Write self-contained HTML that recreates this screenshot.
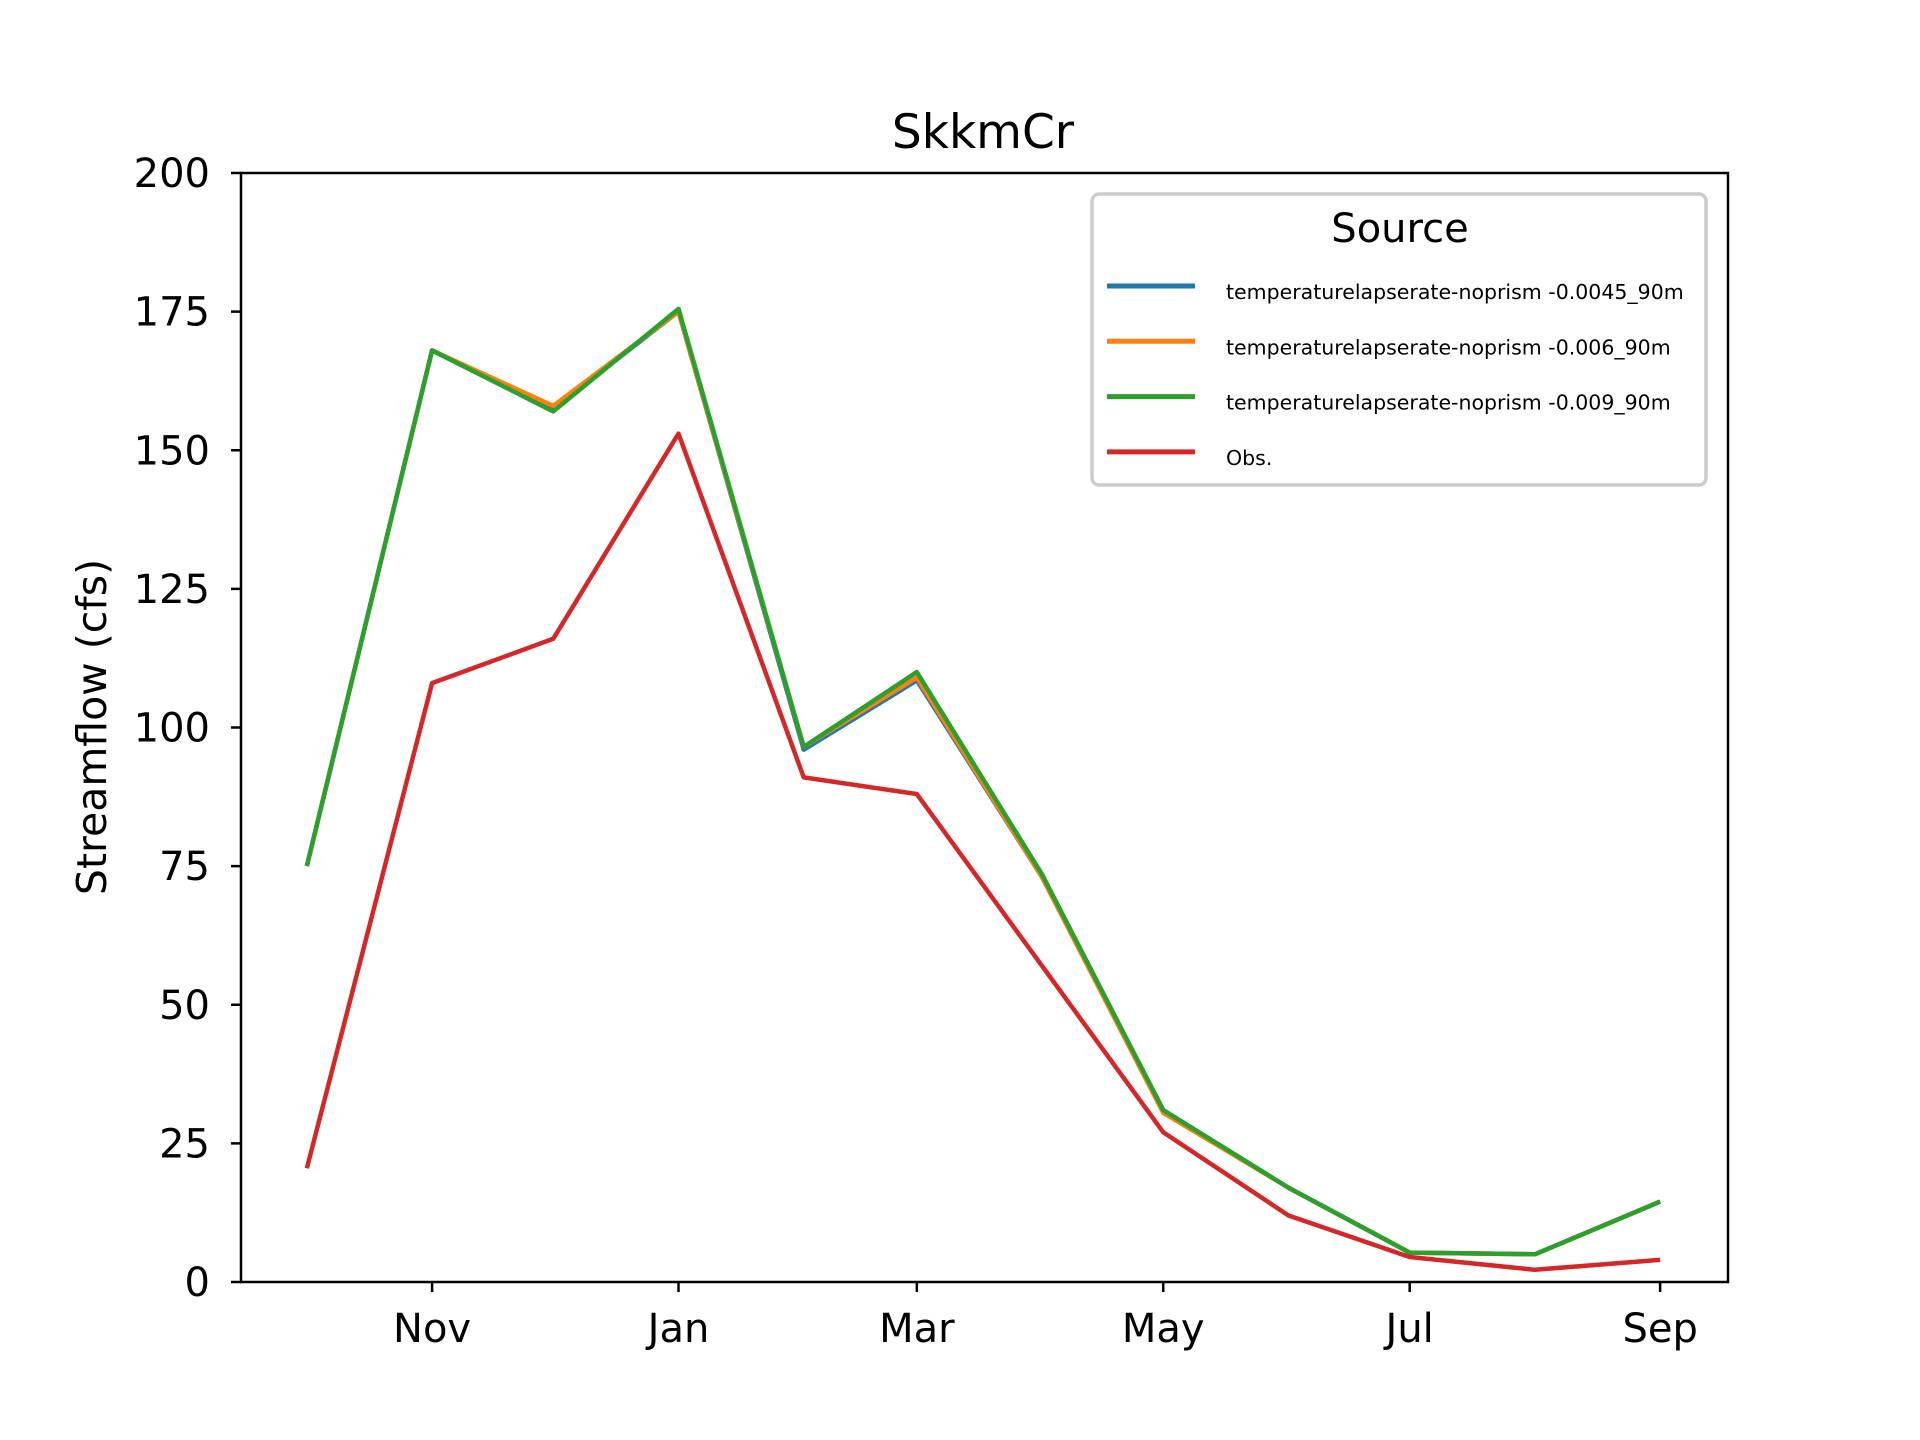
<!DOCTYPE html>
<html><head><meta charset="utf-8"><style>body{margin:0;background:#fff}svg{display:block;font-family:"DejaVu Sans","Liberation Sans",sans-serif}</style></head>
<body>
<svg id="chart" width="1920" height="1440" viewBox="0 0 1920 1440">
<rect width="1920" height="1440" fill="#fff"/>
<text x="983" y="148" font-size="47" text-anchor="middle">SkkmCr</text>
<g id="plot"></g>
<rect x="241" y="173" width="1487" height="1109" fill="none" stroke="#000" stroke-width="2.5"/>
<g id="yt"></g><g id="xt"></g>
<text transform="translate(106,727) rotate(-90)" font-size="41" text-anchor="middle">Streamflow (cfs)</text>
<g>
<rect x="1092" y="194" width="614" height="291" rx="7" fill="#fff" stroke="#ccc" stroke-width="3.5"/>
<text x="1400" y="242" font-size="40" text-anchor="middle">Source</text>
<g id="leg"></g>
</g>
</svg>
<script>
const days=[0,31,61,92,123,151,182,212,243,273,304,335];
const tickDays=[31,92,151,212,273,335];
const tickLabels=["Nov","Jan","Mar","May","Jul","Sep"];
const yTicks=[0,25,50,75,100,125,150,175,200];
const s0045=[75,168,157.5,175,96,108.5,73,31,17,5.3,5,14.5];
const s006=[75,168,158,175,96.5,109,73,30.5,17,5.3,5,14.5];
const s009=[75,168,157,175.5,96.5,110,73.5,31,17,5.3,5,14.5];
const obs=[20.5,108,116,153,91,88,57,27,12,4.5,2.2,4];
const names=["temperaturelapserate-noprism -0.0045_90m","temperaturelapserate-noprism -0.006_90m","temperaturelapserate-noprism -0.009_90m","Obs."];
const colors=["#1f77b4","#ff7f0e","#2ca02c","#d62728"];
const series=[s0045,s006,s009,obs];
const NS="http://www.w3.org/2000/svg";
const x=d=>241+(d+16.3)/(351.8+16.3)*1487;
const y=v=>1282-v/200*1109;
function mk(t,a,p){const e=document.createElementNS(NS,t);for(const k in a)e.setAttribute(k,a[k]);p.appendChild(e);return e;}
const plot=document.getElementById('plot');
const keys=["series-0045","series-006","series-009","series-obs"];
series.forEach((s,i)=>{
 const e=mk('polyline',{points:s.map((v,j)=>x(days[j])+','+y(v)).join(' '),fill:'none',stroke:colors[i],'stroke-width':4.5,'stroke-linejoin':'round'},plot);
 
 
});
const yt=document.getElementById('yt');
yTicks.forEach(v=>{
 const l=mk('line',{x1:231,x2:241,y1:y(v),y2:y(v),stroke:'#000','stroke-width':2.5},yt);
 
 
 const t=mk('text',{x:210,y:y(v)+14,'font-size':40,'text-anchor':'end'},yt);t.textContent=v;
 
 
});
const xt=document.getElementById('xt');
tickDays.forEach((d,i)=>{
 const l=mk('line',{x1:x(d),x2:x(d),y1:1282,y2:1292,stroke:'#000','stroke-width':2.5},xt);
 
 
 const t=mk('text',{x:x(d),y:1342,'font-size':40,'text-anchor':'middle'},xt);t.textContent=tickLabels[i];
 
 
});
const leg=document.getElementById('leg');
names.forEach((n,i)=>{
 const yy=286+i*55.3;
 const l=mk('line',{x1:1107,x2:1195,y1:yy,y2:yy,stroke:colors[i],'stroke-width':5},leg);
 
 
 const t=mk('text',{x:1226,y:yy+13,'font-size':20.5},leg);t.textContent=n;
 
 
});
</script>
</body></html>
